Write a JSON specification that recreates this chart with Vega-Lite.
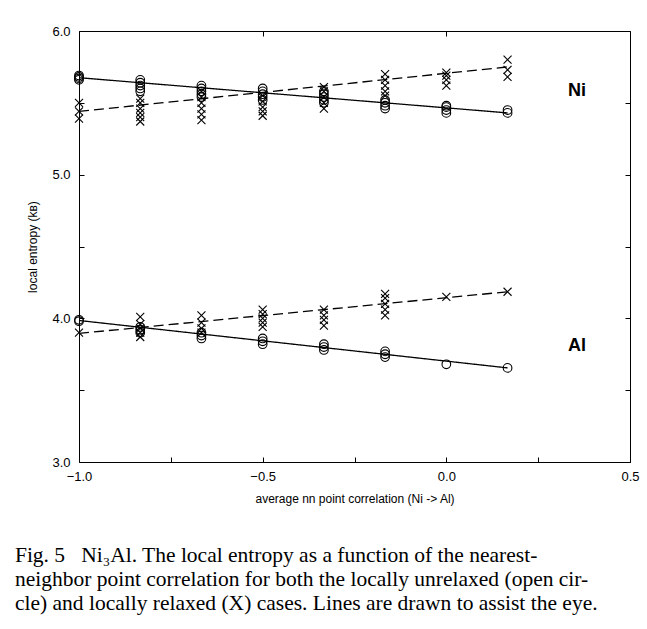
{
  "$schema": "https://vega.github.io/schema/vega-lite/v6.json",
  "width": 551,
  "height": 431,
  "autosize": {"type": "none"},
  "padding": {"left": 79, "top": 31, "right": 17, "bottom": 167},
  "background": "white",
  "config": {
    "view": {"stroke": "black", "strokeWidth": 1},
    "font": "Liberation Sans",
    "axis": {"domain": false, "grid": false, "tickColor": "black", "labelColor": "black", "titleColor": "black", "labelFontSize": 13, "titleFontSize": 12, "titleFontWeight": "normal", "labelFont": "Liberation Sans", "titleFont": "Liberation Sans"}
  },
  "title": {
    "text": [
      "Fig. 5\u00a0\u00a0\u00a0Ni₃Al. The local entropy as a function of the nearest-",
      "neighbor point correlation for both the locally unrelaxed (open cir-",
      "cle) and locally relaxed (X) cases. Lines are drawn to assist the eye."
    ],
    "orient": "bottom",
    "anchor": "start",
    "frame": "bounds",
    "font": "Liberation Serif",
    "fontSize": 21.5,
    "fontWeight": "normal",
    "lineHeight": 24,
    "color": "black",
    "offset": 41,
    "dx": -12
  },
  "datasets": {
    "fits": [
      {"elem": "Ni", "case": "unrelaxed", "x": -1, "y": 5.675},
      {"elem": "Ni", "case": "unrelaxed", "x": 0.1667, "y": 5.43},
      {"elem": "Ni", "case": "relaxed", "x": -1, "y": 5.44},
      {"elem": "Ni", "case": "relaxed", "x": 0.1667, "y": 5.75},
      {"elem": "Al", "case": "unrelaxed", "x": -1, "y": 3.985},
      {"elem": "Al", "case": "unrelaxed", "x": 0.1667, "y": 3.655},
      {"elem": "Al", "case": "relaxed", "x": -1, "y": 3.895},
      {"elem": "Al", "case": "relaxed", "x": 0.1667, "y": 4.185}
    ],
    "pts": [
      {"elem": "Ni", "case": "unrelaxed", "x": -1, "y": 5.66},
      {"elem": "Ni", "case": "unrelaxed", "x": -1, "y": 5.67},
      {"elem": "Ni", "case": "unrelaxed", "x": -1, "y": 5.68},
      {"elem": "Ni", "case": "unrelaxed", "x": -1, "y": 5.69},
      {"elem": "Ni", "case": "unrelaxed", "x": -0.8333, "y": 5.58},
      {"elem": "Ni", "case": "unrelaxed", "x": -0.8333, "y": 5.6},
      {"elem": "Ni", "case": "unrelaxed", "x": -0.8333, "y": 5.62},
      {"elem": "Ni", "case": "unrelaxed", "x": -0.8333, "y": 5.64},
      {"elem": "Ni", "case": "unrelaxed", "x": -0.8333, "y": 5.66},
      {"elem": "Ni", "case": "unrelaxed", "x": -0.6667, "y": 5.54},
      {"elem": "Ni", "case": "unrelaxed", "x": -0.6667, "y": 5.56},
      {"elem": "Ni", "case": "unrelaxed", "x": -0.6667, "y": 5.58},
      {"elem": "Ni", "case": "unrelaxed", "x": -0.6667, "y": 5.6},
      {"elem": "Ni", "case": "unrelaxed", "x": -0.6667, "y": 5.62},
      {"elem": "Ni", "case": "unrelaxed", "x": -0.5, "y": 5.52},
      {"elem": "Ni", "case": "unrelaxed", "x": -0.5, "y": 5.54},
      {"elem": "Ni", "case": "unrelaxed", "x": -0.5, "y": 5.56},
      {"elem": "Ni", "case": "unrelaxed", "x": -0.5, "y": 5.58},
      {"elem": "Ni", "case": "unrelaxed", "x": -0.5, "y": 5.6},
      {"elem": "Ni", "case": "unrelaxed", "x": -0.3333, "y": 5.5},
      {"elem": "Ni", "case": "unrelaxed", "x": -0.3333, "y": 5.52},
      {"elem": "Ni", "case": "unrelaxed", "x": -0.3333, "y": 5.54},
      {"elem": "Ni", "case": "unrelaxed", "x": -0.3333, "y": 5.56},
      {"elem": "Ni", "case": "unrelaxed", "x": -0.3333, "y": 5.58},
      {"elem": "Ni", "case": "unrelaxed", "x": -0.1667, "y": 5.46},
      {"elem": "Ni", "case": "unrelaxed", "x": -0.1667, "y": 5.48},
      {"elem": "Ni", "case": "unrelaxed", "x": -0.1667, "y": 5.5},
      {"elem": "Ni", "case": "unrelaxed", "x": -0.1667, "y": 5.52},
      {"elem": "Ni", "case": "unrelaxed", "x": 0, "y": 5.43},
      {"elem": "Ni", "case": "unrelaxed", "x": 0, "y": 5.45},
      {"elem": "Ni", "case": "unrelaxed", "x": 0, "y": 5.47},
      {"elem": "Ni", "case": "unrelaxed", "x": 0, "y": 5.48},
      {"elem": "Ni", "case": "unrelaxed", "x": 0.1667, "y": 5.43},
      {"elem": "Ni", "case": "unrelaxed", "x": 0.1667, "y": 5.45},
      {"elem": "Ni", "case": "relaxed", "x": -1, "y": 5.39},
      {"elem": "Ni", "case": "relaxed", "x": -1, "y": 5.44},
      {"elem": "Ni", "case": "relaxed", "x": -1, "y": 5.5},
      {"elem": "Ni", "case": "relaxed", "x": -0.8333, "y": 5.37},
      {"elem": "Ni", "case": "relaxed", "x": -0.8333, "y": 5.4},
      {"elem": "Ni", "case": "relaxed", "x": -0.8333, "y": 5.43},
      {"elem": "Ni", "case": "relaxed", "x": -0.8333, "y": 5.46},
      {"elem": "Ni", "case": "relaxed", "x": -0.8333, "y": 5.5},
      {"elem": "Ni", "case": "relaxed", "x": -0.8333, "y": 5.53},
      {"elem": "Ni", "case": "relaxed", "x": -0.6667, "y": 5.38},
      {"elem": "Ni", "case": "relaxed", "x": -0.6667, "y": 5.42},
      {"elem": "Ni", "case": "relaxed", "x": -0.6667, "y": 5.46},
      {"elem": "Ni", "case": "relaxed", "x": -0.6667, "y": 5.5},
      {"elem": "Ni", "case": "relaxed", "x": -0.6667, "y": 5.54},
      {"elem": "Ni", "case": "relaxed", "x": -0.6667, "y": 5.58},
      {"elem": "Ni", "case": "relaxed", "x": -0.5, "y": 5.41},
      {"elem": "Ni", "case": "relaxed", "x": -0.5, "y": 5.44},
      {"elem": "Ni", "case": "relaxed", "x": -0.5, "y": 5.47},
      {"elem": "Ni", "case": "relaxed", "x": -0.5, "y": 5.51},
      {"elem": "Ni", "case": "relaxed", "x": -0.5, "y": 5.55},
      {"elem": "Ni", "case": "relaxed", "x": -0.3333, "y": 5.46},
      {"elem": "Ni", "case": "relaxed", "x": -0.3333, "y": 5.5},
      {"elem": "Ni", "case": "relaxed", "x": -0.3333, "y": 5.54},
      {"elem": "Ni", "case": "relaxed", "x": -0.3333, "y": 5.58},
      {"elem": "Ni", "case": "relaxed", "x": -0.3333, "y": 5.61},
      {"elem": "Ni", "case": "relaxed", "x": -0.1667, "y": 5.55},
      {"elem": "Ni", "case": "relaxed", "x": -0.1667, "y": 5.58},
      {"elem": "Ni", "case": "relaxed", "x": -0.1667, "y": 5.62},
      {"elem": "Ni", "case": "relaxed", "x": -0.1667, "y": 5.66},
      {"elem": "Ni", "case": "relaxed", "x": -0.1667, "y": 5.7},
      {"elem": "Ni", "case": "relaxed", "x": 0, "y": 5.62},
      {"elem": "Ni", "case": "relaxed", "x": 0, "y": 5.66},
      {"elem": "Ni", "case": "relaxed", "x": 0, "y": 5.69},
      {"elem": "Ni", "case": "relaxed", "x": 0, "y": 5.71},
      {"elem": "Ni", "case": "relaxed", "x": 0.1667, "y": 5.68},
      {"elem": "Ni", "case": "relaxed", "x": 0.1667, "y": 5.73},
      {"elem": "Ni", "case": "relaxed", "x": 0.1667, "y": 5.8},
      {"elem": "Al", "case": "unrelaxed", "x": -1, "y": 3.98},
      {"elem": "Al", "case": "unrelaxed", "x": -1, "y": 3.99},
      {"elem": "Al", "case": "unrelaxed", "x": -0.8333, "y": 3.9},
      {"elem": "Al", "case": "unrelaxed", "x": -0.8333, "y": 3.92},
      {"elem": "Al", "case": "unrelaxed", "x": -0.8333, "y": 3.94},
      {"elem": "Al", "case": "unrelaxed", "x": -0.6667, "y": 3.86},
      {"elem": "Al", "case": "unrelaxed", "x": -0.6667, "y": 3.88},
      {"elem": "Al", "case": "unrelaxed", "x": -0.6667, "y": 3.9},
      {"elem": "Al", "case": "unrelaxed", "x": -0.5, "y": 3.82},
      {"elem": "Al", "case": "unrelaxed", "x": -0.5, "y": 3.84},
      {"elem": "Al", "case": "unrelaxed", "x": -0.5, "y": 3.86},
      {"elem": "Al", "case": "unrelaxed", "x": -0.3333, "y": 3.78},
      {"elem": "Al", "case": "unrelaxed", "x": -0.3333, "y": 3.8},
      {"elem": "Al", "case": "unrelaxed", "x": -0.3333, "y": 3.82},
      {"elem": "Al", "case": "unrelaxed", "x": -0.1667, "y": 3.73},
      {"elem": "Al", "case": "unrelaxed", "x": -0.1667, "y": 3.75},
      {"elem": "Al", "case": "unrelaxed", "x": -0.1667, "y": 3.77},
      {"elem": "Al", "case": "unrelaxed", "x": 0, "y": 3.68},
      {"elem": "Al", "case": "unrelaxed", "x": 0.1667, "y": 3.655},
      {"elem": "Al", "case": "relaxed", "x": -1, "y": 3.9},
      {"elem": "Al", "case": "relaxed", "x": -0.8333, "y": 3.87},
      {"elem": "Al", "case": "relaxed", "x": -0.8333, "y": 3.9},
      {"elem": "Al", "case": "relaxed", "x": -0.8333, "y": 3.93},
      {"elem": "Al", "case": "relaxed", "x": -0.8333, "y": 3.96},
      {"elem": "Al", "case": "relaxed", "x": -0.8333, "y": 4.01},
      {"elem": "Al", "case": "relaxed", "x": -0.6667, "y": 3.9},
      {"elem": "Al", "case": "relaxed", "x": -0.6667, "y": 3.93},
      {"elem": "Al", "case": "relaxed", "x": -0.6667, "y": 3.97},
      {"elem": "Al", "case": "relaxed", "x": -0.6667, "y": 4.02},
      {"elem": "Al", "case": "relaxed", "x": -0.5, "y": 3.94},
      {"elem": "Al", "case": "relaxed", "x": -0.5, "y": 3.97},
      {"elem": "Al", "case": "relaxed", "x": -0.5, "y": 4.0},
      {"elem": "Al", "case": "relaxed", "x": -0.5, "y": 4.03},
      {"elem": "Al", "case": "relaxed", "x": -0.5, "y": 4.06},
      {"elem": "Al", "case": "relaxed", "x": -0.3333, "y": 3.95},
      {"elem": "Al", "case": "relaxed", "x": -0.3333, "y": 3.99},
      {"elem": "Al", "case": "relaxed", "x": -0.3333, "y": 4.02},
      {"elem": "Al", "case": "relaxed", "x": -0.3333, "y": 4.06},
      {"elem": "Al", "case": "relaxed", "x": -0.1667, "y": 4.02},
      {"elem": "Al", "case": "relaxed", "x": -0.1667, "y": 4.06},
      {"elem": "Al", "case": "relaxed", "x": -0.1667, "y": 4.1},
      {"elem": "Al", "case": "relaxed", "x": -0.1667, "y": 4.14},
      {"elem": "Al", "case": "relaxed", "x": -0.1667, "y": 4.17},
      {"elem": "Al", "case": "relaxed", "x": 0, "y": 4.15},
      {"elem": "Al", "case": "relaxed", "x": 0.1667, "y": 4.185}
    ],
    "labels": [
      {"label": "Ni", "x": 0.331, "y": 5.58},
      {"label": "Al", "x": 0.331, "y": 3.81}
    ]
  },
  "resolve": {"axis": {"x": "independent", "y": "independent"}},
  "layer": [
    {
      "data": {"name": "fits"},
      "mark": {"type": "line", "color": "black", "strokeWidth": 1.3},
      "encoding": {
        "x": {"field": "x", "type": "quantitative", "scale": {"domain": [-1, 0.5], "nice": false, "zero": false},
          "axis": {"orient": "bottom", "title": "average nn point correlation (Ni -> Al)", "values": [-1, -0.75, -0.5, -0.25, 0, 0.25, 0.5],
            "labelExpr": "abs(datum.value % 0.5) < 0.001 ? format(datum.value, '.1f') : ''", "tickSize": -5, "labelPadding": 13, "titlePadding": 10, "labelFlush": false}},
        "y": {"field": "y", "type": "quantitative", "scale": {"domain": [3, 6], "nice": false, "zero": false},
          "axis": {"orient": "left", "title": "local entropy (kʙ)", "values": [3, 3.5, 4, 4.5, 5, 5.5, 6],
            "labelExpr": "abs(datum.value % 1) < 0.001 ? format(datum.value, '.1f') : ''", "tickSize": -5, "labelPadding": 14, "titlePadding": 12, "labelFlush": false}},
        "strokeDash": {"field": "case", "type": "nominal", "scale": {"domain": ["unrelaxed", "relaxed"], "range": [[1, 0], [10, 5]]}, "legend": null},
        "detail": {"field": "elem", "type": "nominal"}
      }
    },
    {
      "data": {"name": "pts"},
      "mark": {"type": "point", "filled": false, "stroke": "black", "strokeWidth": 1.1, "opacity": 1},
      "encoding": {
        "x": {"field": "x", "type": "quantitative", "scale": {"domain": [-1, 0.5], "nice": false, "zero": false}, "axis": null},
        "y": {"field": "y", "type": "quantitative", "scale": {"domain": [3, 6], "nice": false, "zero": false}, "axis": null},
        "shape": {"field": "case", "type": "nominal", "scale": {"domain": ["unrelaxed", "relaxed"], "range": ["circle", "M-1,-1L1,1M-1,1L1,-1"]}, "legend": null},
        "size": {"field": "case", "type": "nominal", "scale": {"domain": ["unrelaxed", "relaxed"], "range": [75, 64]}, "legend": null}
      }
    },
    {
      "data": {"name": "labels"},
      "mark": {"type": "text", "font": "Liberation Sans", "fontWeight": "bold", "fontSize": 18, "color": "black", "align": "left", "baseline": "middle"},
      "encoding": {
        "x": {"field": "x", "type": "quantitative", "scale": {"domain": [-1, 0.5], "nice": false, "zero": false},
          "axis": {"orient": "top", "title": null, "labels": false, "values": [-1, -0.5, 0, 0.5], "tickSize": -5}},
        "y": {"field": "y", "type": "quantitative", "scale": {"domain": [3, 6], "nice": false, "zero": false},
          "axis": {"orient": "right", "title": null, "labels": false, "values": [3, 3.5, 4, 4.5, 5, 5.5, 6], "tickSize": -5}},
        "text": {"field": "label", "type": "nominal"}
      }
    }
  ]
}
